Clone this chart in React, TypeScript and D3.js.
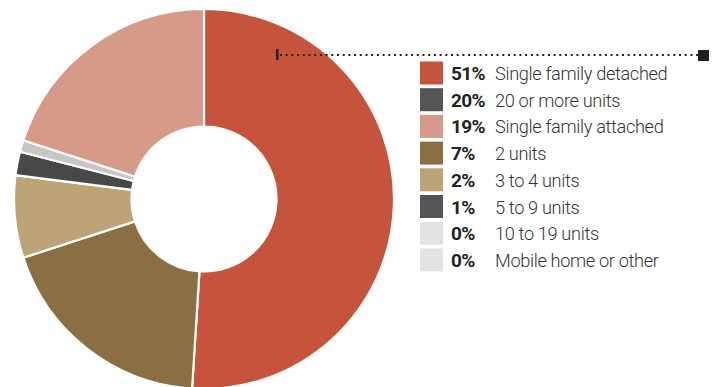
import React from "react";
import * as d3 from "d3";

// Legend data
const legendPercents = ["51%", "20%", "19%", "7%", "2%", "1%", "0%", "0%"];
const legendLabels = [
  "Single family detached",
  "20 or more units",
  "Single family attached",
  "2 units",
  "3 to 4 units",
  "5 to 9 units",
  "10 to 19 units",
  "Mobile home or other",
];
const legendColors = ["#c6533b", "#555555", "#d59b88", "#8a6f45", "#bca477", "#555555", "#e2e3e5", "#e2e3e5"];

// Donut slices as drawn (clockwise from 12 o'clock)
const sliceValues = [51, 19, 7, 2, 1, 20];
const sliceColors = ["#c6533b", "#8a6f45", "#bca477", "#484848", "#c6c6c6", "#d59b88"];

const W = 712;
const H = 387;

export default function App() {
  const cx = 204;
  const cy = 199;
  const outerR = 190;
  const innerR = 72.5;

  const pie = d3.pie<number>().sort(null).value((d) => d);
  const arcs = pie(sliceValues);
  const arc = d3.arc<d3.PieArcDatum<number>>().innerRadius(innerR).outerRadius(outerR);

  const rowY = d3.scaleLinear().domain([0, 1]).range([73, 73 + 26.7]);

  const lineY = 55;
  const dots = d3.range(280, 697, 5.7);

  return (
    <svg
      width={W}
      height={H}
      style={{ position: "absolute", left: 0, top: 0, display: "block" }}
    >
      <rect width={W} height={H} fill="#ffffff" />
      <g transform={`translate(${cx},${cy})`}>
        {arcs.map((a, i) => (
          <path key={i} d={arc(a) || ""} fill={sliceColors[i]} stroke="#ffffff" strokeWidth={2.2} strokeLinejoin="miter" />
        ))}
      </g>
      {/* leader line */}
      <rect x={276} y={49} width={2.5} height={11} fill="#222" />
      {dots.map((x, i) => (
        <rect key={i} x={x} y={lineY - 1} width={2} height={2} fill="#222" />
      ))}
      <rect x={698} y={50} width={11} height={11} fill="#231f20" />
      {legendLabels.map((lab, i) => {
        const y = rowY(i);
        return (
          <g key={i}>
            <rect x={420} y={y - 11.5} width={23} height={23} fill={legendColors[i]} />
            <text
              x={451}
              y={y + 7}
              fontFamily="Roboto, sans-serif"
              fontWeight={700}
              fontSize={19}
              fill="#222"
              letterSpacing={-0.6}
            >
              {legendPercents[i]}
            </text>
            <text
              x={495}
              y={y + 7}
              fontFamily="Roboto, sans-serif"
              fontWeight={300}
              fontSize={18.2}
              fill="#333"
              letterSpacing={-0.35}
            >
              {lab}
            </text>
          </g>
        );
      })}
    </svg>
  );
}
